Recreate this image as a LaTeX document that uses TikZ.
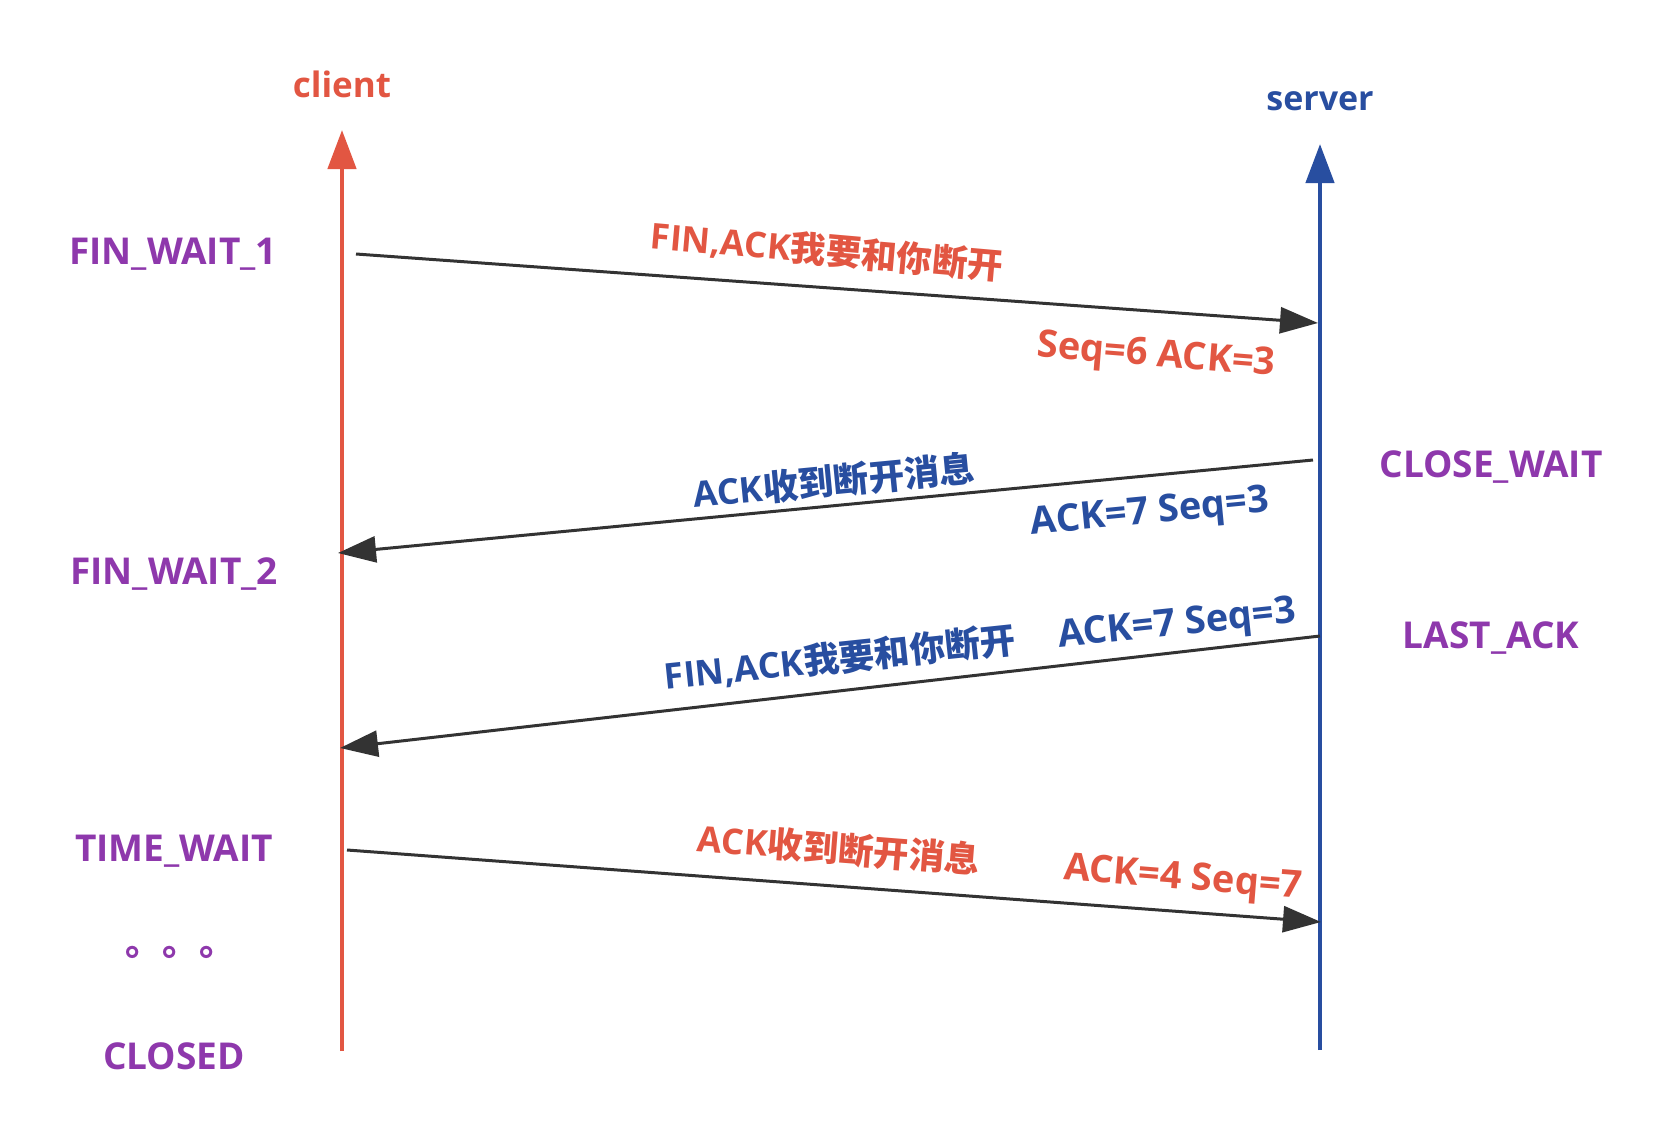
\documentclass[tikz,border=0pt]{standalone}
\usepackage{fontspec}
\setmainfont{Open Sans}
\newfontfamily\cjk{Noto Sans CJK SC Bold}
\usetikzlibrary{arrows.meta}
\definecolor{cred}{RGB}{226,86,66}
\definecolor{cblue}{RGB}{40,78,160}
\definecolor{cpurple}{RGB}{142,56,172}
\definecolor{cline}{RGB}{51,51,51}
\newcommand{\zh}[1]{{\cjk #1}}
\tikzset{
  lifeline/.style={line width=4.5pt,-{Triangle[length=39pt,width=28pt]}},
  msgline/.style={draw=cline,line width=3pt,-{Triangle[length=38pt,width=26pt]}},
  lbl/.style={inner sep=0pt,font=\fontsize{35pt}{40pt}\selectfont\bfseries},
  statelbl/.style={inner sep=0pt,font=\fontsize{37pt}{42pt}\selectfont\bfseries,text=cpurple},
  msglbl/.style={inner sep=0pt,font=\fontsize{38pt}{43pt}\selectfont\bfseries},
  mixlbl/.style={inner sep=0pt,font=\fontsize{35.5pt}{41pt}\selectfont\bfseries},
  redlbl/.style={msglbl,text=cred},
  bluelbl/.style={msglbl,text=cblue},
  redmix/.style={mixlbl,text=cred},
  bluemix/.style={mixlbl,text=cblue},
}
\begin{document}
\begin{tikzpicture}[x=1pt,y=-1pt]
\useasboundingbox[fill=white] (0,0) rectangle (1676,1124);
% lifelines
\coordinate (cbot) at (342,1051);
\coordinate (ctop) at (342,130);
\coordinate (sbot) at (1320,1050);
\coordinate (stop) at (1320,144);
\draw[lifeline,draw=cred,cred] (cbot) -- (ctop);
\draw[lifeline,draw=cblue,cblue] (sbot) -- (stop);
\node[lbl,text=cred] (client) at (342,84) {client};
\node[lbl,text=cblue,font=\fontsize{34pt}{40pt}\selectfont\bfseries] (server) at (1320,101) {server};
% states
\node[statelbl] (fw1) at (173,254) {FIN\_WAIT\_1};
\node[statelbl] (fw2) at (174,574) {FIN\_WAIT\_2};
\node[statelbl] (tw) at (174,851) {TIME\_WAIT};
\node[statelbl] (dots) at (181,952) {\zh{。。。}};
\node[statelbl] (closed) at (174,1056) {CLOSED};
\node[statelbl] (cw) at (1491,467) {CLOSE\_WAIT};
\node[statelbl] (la) at (1491,638) {LAST\_ACK};
% message endpoints
\coordinate (m1s) at (356,254);
\coordinate (m1e) at (1318,323);
\coordinate (m2s) at (1313,460);
\coordinate (m2e) at (338,553);
\coordinate (m3s) at (1320,636);
\coordinate (m3e) at (340,748);
\coordinate (m4s) at (347,850);
\coordinate (m4e) at (1321,922);
\draw[msgline] (m1s) -- (m1e);
\draw[msgline] (m2s) -- (m2e);
\draw[msgline] (m3s) -- (m3e);
\draw[msgline] (m4s) -- (m4e);
% message labels
\node[redmix,rotate=-5] (t1a) at (827,251) {FIN,ACK\zh{我要和你断开}};
\node[redlbl,rotate=-4.5] (t1b) at (1156,357) {Seq=6 ACK=3};
\node[bluemix,rotate=5.5] (t2a) at (834,481) {ACK\zh{收到断开消息}};
\node[bluelbl,rotate=5.5] (t2b) at (1150,514) {ACK=7 Seq=3};
\node[bluemix,rotate=6] (t3a) at (840,658) {FIN,ACK\zh{我要和你断开}};
\node[bluelbl,rotate=6] (t3b) at (1177,626) {ACK=7 Seq=3};
\node[redmix,rotate=-4.5] (t4a) at (839,849) {ACK\zh{收到断开消息}};
\node[redlbl,rotate=-4.5] (t4b) at (1183,880) {ACK=4 Seq=7};
\end{tikzpicture}
\end{document}
